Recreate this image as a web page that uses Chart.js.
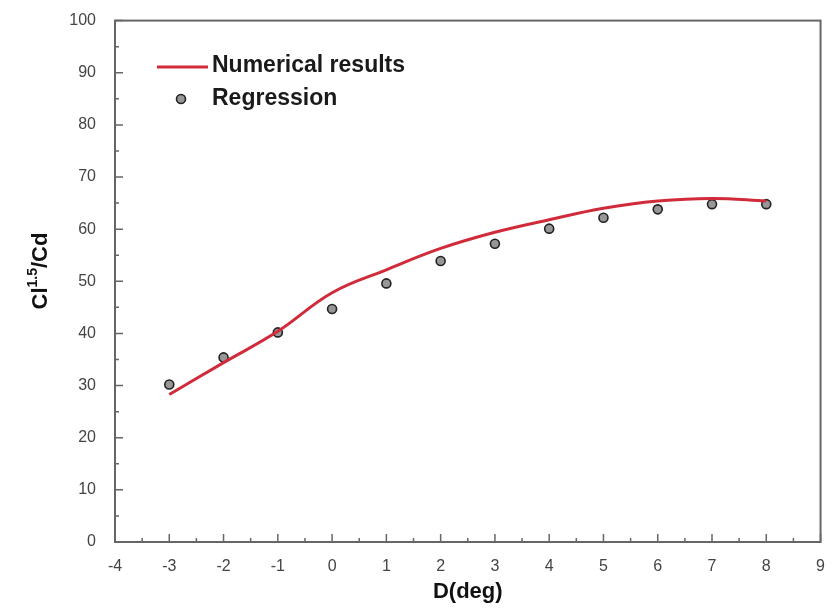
<!DOCTYPE html>
<html>
<head>
<meta charset="utf-8">
<script src="https://cdn.jsdelivr.net/npm/chart.js@4"></script>
<style>
  html, body { margin: 0; padding: 0; background: #fff; }
  #wrap { width: 832px; height: 613px; }
</style>
</head>
<body>
<div id="wrap"><canvas id="chart" width="832" height="613"></canvas></div>
<script>
  const xValues = [-3, -2, -1, 0, 1, 2, 3, 4, 5, 6, 7, 8];
  const numericalValues = [28.3, 34.4, 40.4, 47.8, 52.2, 56.3, 59.4, 61.8, 64.0, 65.4, 65.9, 65.4];
  const regressionValues = [30.2, 35.4, 40.2, 44.7, 49.6, 53.9, 57.2, 60.1, 62.2, 63.8, 64.8, 64.8];

  const xTicks = [-4, -3, -2, -1, 0, 1, 2, 3, 4, 5, 6, 7, 8, 9];
  const yTicks = [0, 10, 20, 30, 40, 50, 60, 70, 80, 90, 100];

  const LABEL_FONT = "Liberation Sans, Arial, sans-serif";
  const frameColor = "#666";

  // inward tick marks, box frame, axis titles and the legend
  const decorations = {
    id: "decorations",
    afterDraw(chart) {
      const { ctx, chartArea: a, scales } = chart;
      const xs = scales.x;
      const ys = scales.y;
      ctx.save();

      ctx.strokeStyle = frameColor;
      ctx.lineWidth = 1.5;
      ctx.beginPath();
      xTicks.forEach((v, i) => {
        const px = xs.getPixelForValue(v);
        ctx.moveTo(px, a.bottom);
        ctx.lineTo(px, a.bottom - 8);
        if (i < xTicks.length - 1) {
          const mx = xs.getPixelForValue(v + 0.5);
          ctx.moveTo(mx, a.bottom);
          ctx.lineTo(mx, a.bottom - 4);
        }
      });
      yTicks.forEach((v, i) => {
        const py = ys.getPixelForValue(v);
        ctx.moveTo(a.left, py);
        ctx.lineTo(a.left + 8, py);
        if (i < yTicks.length - 1) {
          const my = ys.getPixelForValue(v + 5);
          ctx.moveTo(a.left, my);
          ctx.lineTo(a.left + 4, my);
        }
      });
      ctx.stroke();

      ctx.lineWidth = 2;
      ctx.strokeRect(a.left, a.top, a.right - a.left, a.bottom - a.top);

      // x title
      ctx.fillStyle = "#111";
      ctx.font = "bold 22px " + LABEL_FONT;
      ctx.textAlign = "center";
      ctx.textBaseline = "middle";
      ctx.fillText("D(deg)", (a.left + a.right) / 2, 592);

      // y title with superscript
      ctx.translate(41, 271);
      ctx.rotate(-Math.PI / 2);
      ctx.textAlign = "left";
      ctx.textBaseline = "middle";
      const big = "bold 22px " + LABEL_FONT;
      const small = "bold 14px " + LABEL_FONT;
      const parts = [["Cl", big, 0], ["1.5", small, -8], ["/Cd", big, 0]];
      let total = 0;
      parts.forEach(([t, f]) => { ctx.font = f; total += ctx.measureText(t).width; });
      let cx = -total / 2;
      parts.forEach(([t, f, dy]) => {
        ctx.font = f;
        ctx.fillText(t, cx, dy);
        cx += ctx.measureText(t).width;
      });
      ctx.setTransform(1, 0, 0, 1, 0, 0);

      // legend
      const ds = chart.data.datasets;
      ctx.strokeStyle = ds[0].borderColor;
      ctx.lineWidth = ds[0].borderWidth;
      ctx.beginPath();
      ctx.moveTo(157, 67);
      ctx.lineTo(208, 67);
      ctx.stroke();

      ctx.beginPath();
      ctx.arc(181, 99, ds[1].pointRadius, 0, Math.PI * 2);
      ctx.fillStyle = ds[1].pointBackgroundColor;
      ctx.fill();
      ctx.lineWidth = ds[1].pointBorderWidth;
      ctx.strokeStyle = ds[1].pointBorderColor;
      ctx.stroke();

      ctx.fillStyle = "#1a1a1a";
      ctx.font = "bold 23px " + LABEL_FONT;
      ctx.textAlign = "left";
      ctx.textBaseline = "middle";
      ctx.fillText(ds[0].label, 212, 66);
      ctx.fillText(ds[1].label, 212, 99);

      ctx.restore();
    }
  };

  new Chart(document.getElementById("chart"), {
    type: "scatter",
    data: {
      datasets: [
        {
          label: "Numerical results",
          data: xValues.map((x, i) => ({ x, y: numericalValues[i] })),
          showLine: true,
          borderColor: "#d12b3b",
          borderWidth: 3,
          pointRadius: 0,
          tension: 0.4
        },
        {
          label: "Regression",
          data: xValues.map((x, i) => ({ x, y: regressionValues[i] })),
          showLine: false,
          pointRadius: 4.5,
          pointBackgroundColor: "#979797",
          pointBorderColor: "#222",
          pointBorderWidth: 1.6
        }
      ]
    },
    options: {
      responsive: false,
      animation: false,
      layout: { padding: { top: 17, right: 9, left: 0, bottom: 0 } },
      plugins: {
        legend: { display: false },
        tooltip: { enabled: false }
      },
      scales: {
        x: {
          type: "linear",
          min: -4,
          max: 9,
          afterBuildTicks(scale) {
            scale.ticks = xTicks.map((v) => ({ value: v }));
          },
          afterFit(scale) {
            scale.height = 71;
          },
          grid: { display: false },
          border: { display: false },
          ticks: {
            color: "#444",
            padding: 7,
            maxRotation: 0,
            font: { family: LABEL_FONT, size: 16 }
          }
        },
        y: {
          min: 0,
          max: 100,
          afterBuildTicks(scale) {
            scale.ticks = yTicks.map((v) => ({ value: v }));
          },
          afterFit(scale) {
            scale.width = 115;
          },
          grid: { display: false },
          border: { display: false },
          ticks: {
            color: "#444",
            padding: 11,
            font: { family: LABEL_FONT, size: 16 }
          }
        }
      }
    },
    plugins: [decorations]
  });
</script>
</body>
</html>
